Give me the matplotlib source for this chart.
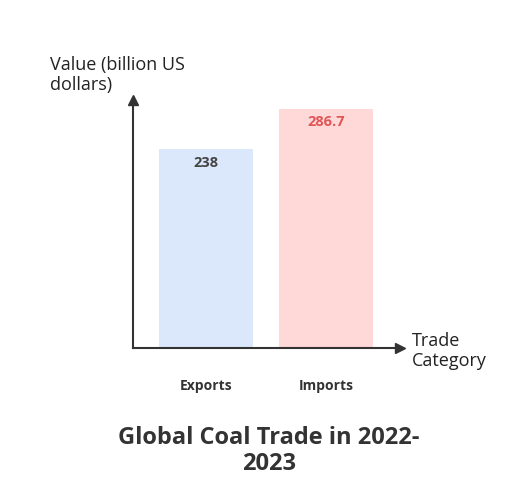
import matplotlib.pyplot as plt

categories = ['Exports', 'Imports']
values = [238, 286.7]
bar_colors = ['#dbe7fb', '#ffd8d8']
label_colors = ['#444444', '#e05555']

plt.rcParams['font.family'] = ['Open Sans', 'DejaVu Sans']

fig = plt.figure(figsize=(5.27, 4.84), dpi=100)
ax = fig.add_axes([0.252, 0.281, 0.507, 0.512])

x = range(len(categories))
ax.bar(x, values, width=0.78, color=bar_colors)
for i, v in zip(x, values):
    ax.text(i, v - 8, f'{v:g}', ha='center', va='top', fontsize=10.5,
            fontweight='bold', color=label_colors[i])

ax.set_xlim(-0.608, 1.617)
ax.set_ylim(0, 297)
for s in ['top', 'right']:
    ax.spines[s].set_visible(False)
for s in ['left', 'bottom']:
    ax.spines[s].set_color('#333333')
    ax.spines[s].set_linewidth(1.5)
ax.plot(1, 0, '>', color='#333333', ms=7, transform=ax.transAxes, clip_on=False)
ax.plot(0, 1, '^', color='#333333', ms=7, transform=ax.transAxes, clip_on=False)
ax.set_yticks([])
ax.set_xticks(list(x))
ax.set_xticklabels(categories, fontsize=10, fontweight='bold', color='#333333')
ax.tick_params(axis='x', length=0, pad=22)

fig.text(0.095, 0.845, 'Value (billion US\ndollars)', fontsize=13, color='#222222',
         ha='left', va='center', linespacing=1.1)
fig.text(0.782, 0.275, 'Trade\nCategory', fontsize=13, color='#222222',
         ha='left', va='center', linespacing=1.1)
fig.text(0.51, 0.068, 'Global Coal Trade in 2022-\n2023', fontsize=17,
         fontweight='bold', color='#333333', ha='center', va='center', linespacing=1.15)

fig.savefig('out.png', dpi=100, facecolor='white')
